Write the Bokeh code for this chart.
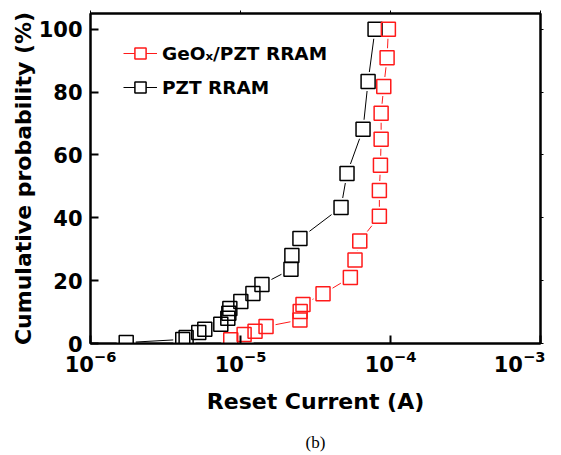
from bokeh.plotting import figure
from bokeh.models import (Range1d, LinearAxis, LogAxis, FixedTicker, Legend, LegendItem,
                          Title, ColumnDataSource, LogScale)
from bokeh.embed import file_html
from bokeh.resources import INLINE

# ---- data ----
pzt_current = [1.73e-6, 4.12e-6, 4.34e-6, 5.27e-6, 5.78e-6, 7.39e-6, 8.23e-6, 8.36e-6,
               8.49e-6, 1.005e-5, 1.21e-5, 1.39e-5, 2.17e-5, 2.20e-5, 2.49e-5, 4.68e-5,
               5.13e-5, 6.56e-5, 7.09e-5, 7.89e-5]
pzt_prob = [0.3, 1.3, 1.9, 3.5, 4.5, 6.1, 8.0, 9.6, 11.1, 13.4, 15.9, 18.8, 23.6, 28.0,
            33.4, 43.3, 54.1, 68.2, 83.4, 100.0]

geox_current = [8.61e-6, 1.057e-5, 1.25e-5, 1.48e-5, 2.49e-5, 2.50e-5, 2.61e-5, 3.55e-5,
                5.40e-5, 5.80e-5, 6.24e-5, 8.43e-5, 8.43e-5, 8.57e-5, 8.66e-5, 8.66e-5,
                9.02e-5, 9.49e-5, 9.68e-5]
geox_prob = [1.2, 2.9, 3.9, 5.4, 7.5, 10.2, 12.4, 15.8, 21.0, 26.6, 32.6, 40.5, 48.7,
             56.7, 65.0, 73.3, 81.8, 90.9, 100.0]

y_ticks = [0, 20, 40, 60, 80, 100]
x_ticks = [1e-6, 1e-5, 1e-4, 1e-3]

FONT = "DejaVu Sans"

p = figure(frame_width=450, frame_height=330, x_axis_type=None, y_axis_location=None,
           x_range=Range1d(1e-6, 1e-3), y_range=Range1d(0, 105),
           x_axis_location=None,
           output_backend="svg", toolbar_location=None,
           min_border_left=90, min_border_right=5, min_border_top=13, min_border_bottom=0)
p.x_scale = LogScale()
p.grid.visible = False
p.outline_line_color = "black"
p.outline_line_width = 2
p.background_fill_color = "white"
p.border_fill_color = "white"

def style_axis(ax, labels=True):
    ax.axis_line_width = 2
    ax.axis_line_color = "black"
    ax.major_tick_line_width = 2
    ax.major_tick_line_color = "black"
    ax.minor_tick_line_color = None
    ax.major_label_text_font = FONT
    ax.major_label_text_font_style = "bold"
    ax.major_label_text_font_size = "21px"
    ax.major_label_text_color = "black"
    ax.axis_label_text_font = FONT
    ax.axis_label_text_font_style = "bold"
    ax.axis_label_text_font_size = "22px"
    ax.axis_label_text_color = "black"
    if not labels:
        ax.major_label_text_font_size = "0px"
        ax.major_label_text_color = None

# bottom log axis
xb = LogAxis(ticker=FixedTicker(ticks=x_ticks), axis_label="Reset Current (A)")
style_axis(xb)
xb.major_tick_in = 8
xb.major_tick_out = 0
xb.major_label_standoff = 6
xb.axis_label_standoff = 14
p.add_layout(xb, "below")

# left linear axis
yl = LinearAxis(ticker=FixedTicker(ticks=y_ticks), axis_label="Cumulative probability (%)")
style_axis(yl)
yl.major_tick_in = 8
yl.major_tick_out = 0
yl.major_label_standoff = 8
yl.axis_label_standoff = 0
p.add_layout(yl, "left")

# top and right frame axes (ticks only)
xt = LogAxis(ticker=FixedTicker(ticks=x_ticks))
style_axis(xt, labels=False)
xt.major_tick_in = 0
xt.major_tick_out = 3
xt.major_tick_line_width = 1
xt.major_label_standoff = 0
p.add_layout(xt, "above")

yr = LinearAxis(ticker=FixedTicker(ticks=y_ticks))
style_axis(yr, labels=False)
yr.major_tick_in = 0
yr.major_tick_out = 3
yr.major_tick_line_width = 1
yr.major_label_standoff = 0
p.add_layout(yr, "right")

src_pzt = ColumnDataSource(dict(x=pzt_current, y=pzt_prob))
src_geo = ColumnDataSource(dict(x=geox_current, y=geox_prob))

RED = "#ff1a1a"

l_pzt = p.line("x", "y", source=src_pzt, line_color="black", line_width=1)
l_geo = p.line("x", "y", source=src_geo, line_color=RED, line_width=1)
m_pzt = p.scatter("x", "y", source=src_pzt, marker="square", size=19,
                  fill_color="white", line_color=None)
m_geo = p.scatter("x", "y", source=src_geo, marker="square", size=19,
                  fill_color="white", line_color=None)
s_pzt = p.scatter("x", "y", source=src_pzt, marker="square", size=14,
                  fill_color=None, line_color="black", line_width=1.5)
s_geo = p.scatter("x", "y", source=src_geo, marker="square", size=14,
                  fill_color=None, line_color=RED, line_width=1.5)

legend = Legend(items=[
    LegendItem(label="GeOₓ/PZT RRAM", renderers=[l_geo, m_geo, s_geo]),
    LegendItem(label="PZT RRAM", renderers=[l_pzt, m_pzt, s_pzt]),
], location=(33, 242))
legend.glyph_width = 34
legend.glyph_height = 28
legend.label_height = 28
legend.label_standoff = 5
legend.spacing = 6
legend.padding = 0
legend.margin = 0
legend.border_line_color = None
legend.background_fill_alpha = 0
legend.label_text_font = FONT
legend.label_text_font_style = "bold"
legend.label_text_font_size = "18.5px"
legend.label_text_color = "black"
p.add_layout(legend, "center")

cap = Title(text="(b)", align="center", text_font="Liberation Serif",
            text_font_style="normal", text_font_size="17px", text_color="black",
            standoff=28)
p.add_layout(cap, "below")

open("out.html", "w").write(file_html(p, INLINE))
